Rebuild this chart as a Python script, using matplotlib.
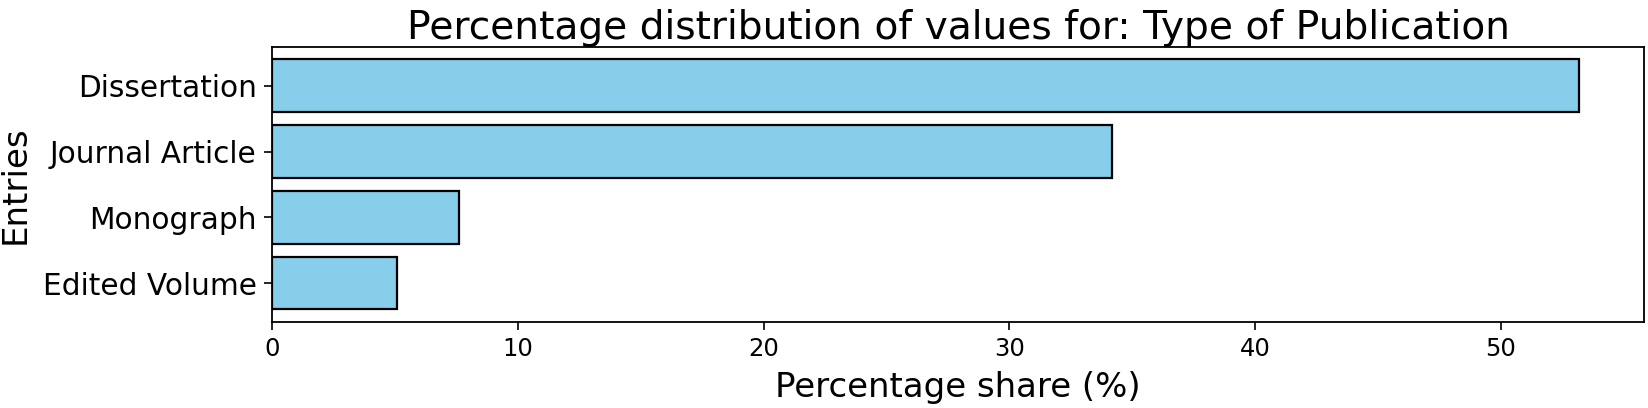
import matplotlib.pyplot as plt

categories = ["Dissertation", "Journal Article", "Monograph", "Edited Volume"]
shares = [53.17, 34.19, 7.6, 5.07]

fig = plt.figure(figsize=(16.49, 4.08), dpi=100)
ax = fig.add_axes([0.165, 0.211, 0.832, 0.674])

ax.barh(categories, shares, color="skyblue", edgecolor="black", linewidth=1.6)
ax.invert_yaxis()

ax.set_title("Percentage distribution of values for: Type of Publication", fontsize=28.2)
ax.set_xlabel("Percentage share (%)", fontsize=24.5, labelpad=7)
ax.set_ylabel("Entries", fontsize=24.5, labelpad=8)
ax.tick_params(axis="both", length=6, width=1.2, pad=5)
ax.tick_params(axis="x", labelsize=17.5)
ax.tick_params(axis="y", labelsize=21.3)
for spine in ax.spines.values():
    spine.set_linewidth(1.3)

fig.savefig("out.png", dpi=100)
